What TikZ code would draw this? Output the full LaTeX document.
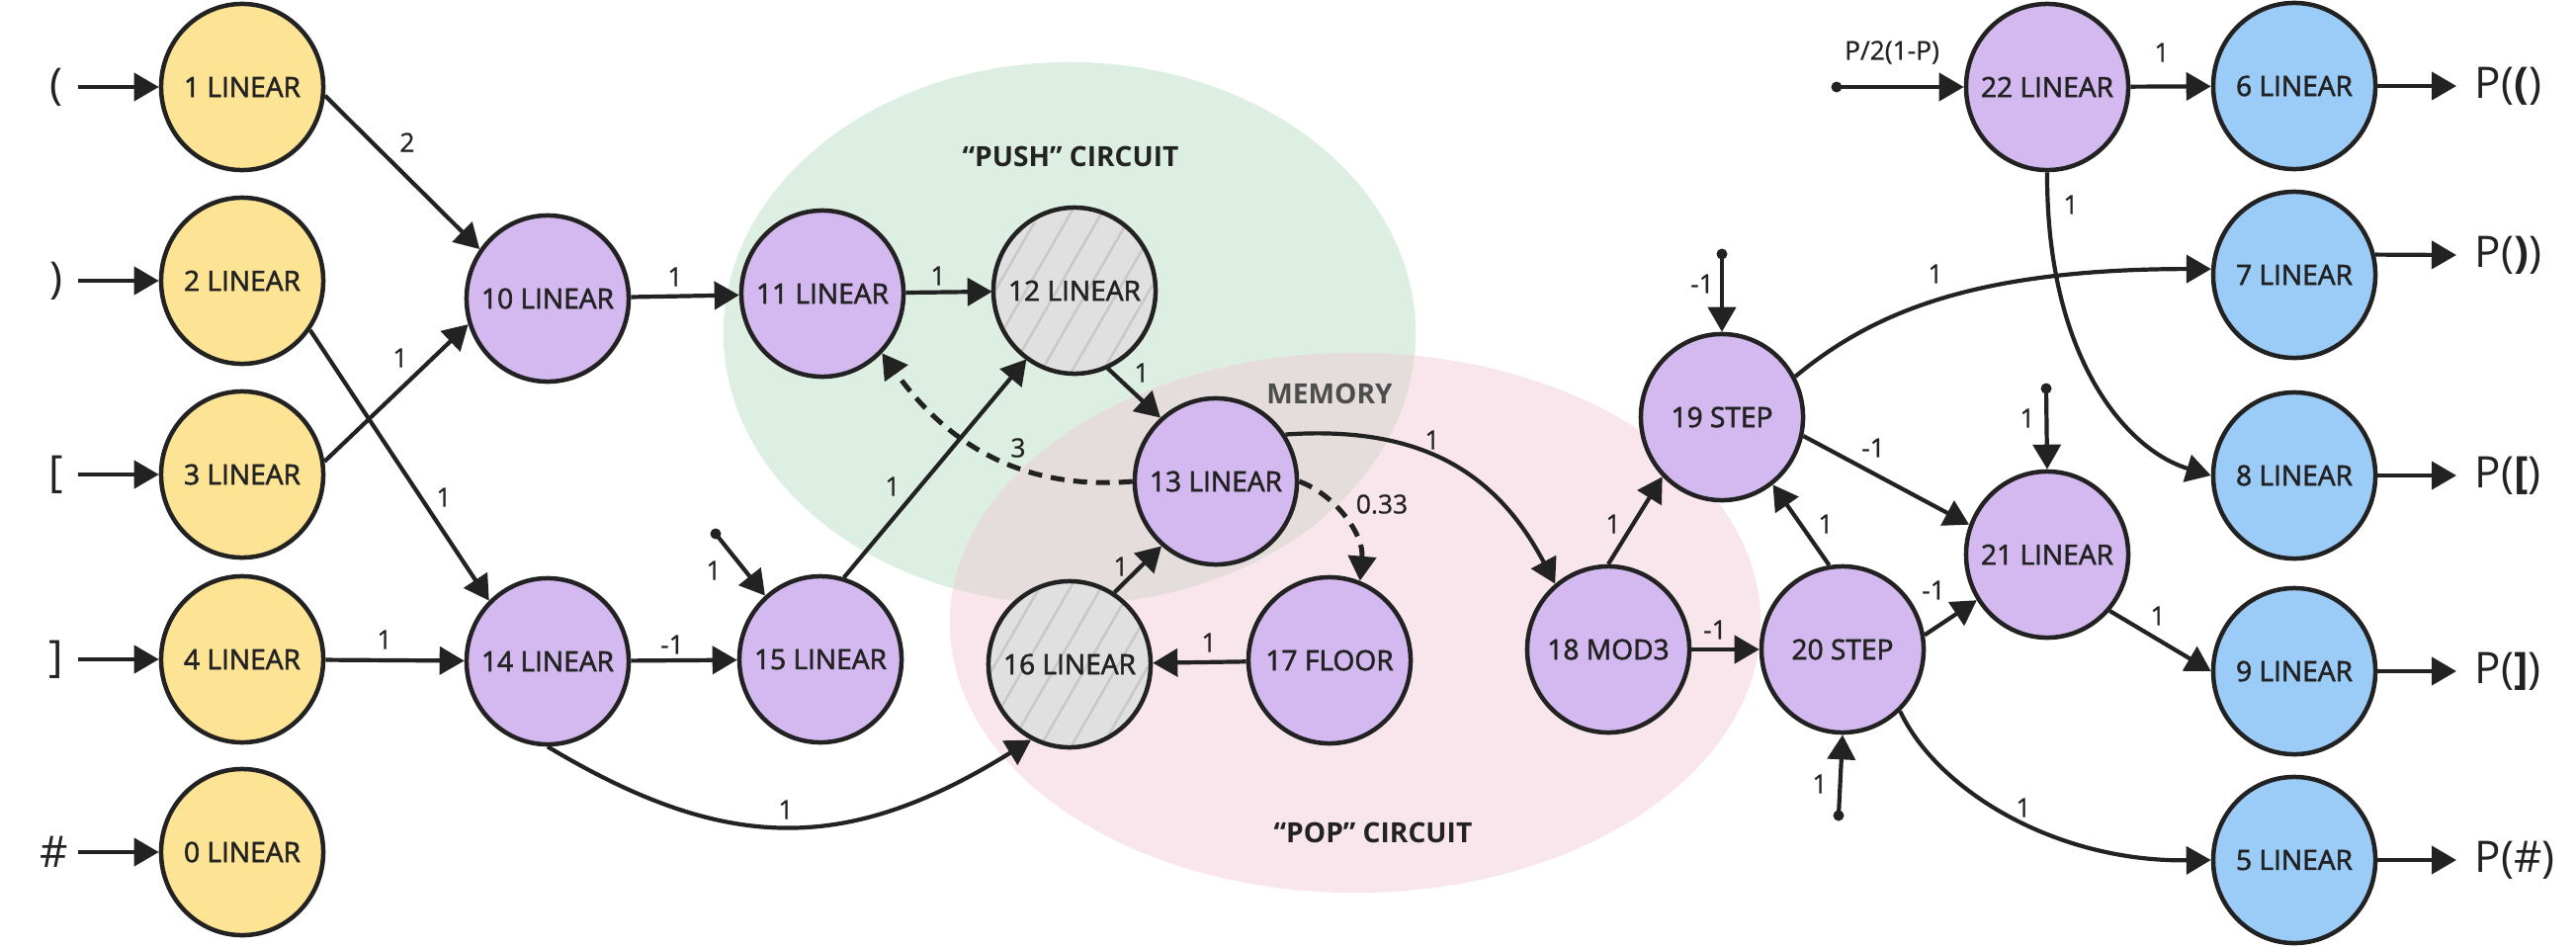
\documentclass[tikz,border=0pt]{standalone}
\usepackage{fontspec}
\setmainfont{Open Sans}
\newfontfamily\nodefont{Open Sans}[FakeBold=2]
\newfontfamily\lblfont{Open Sans}[FakeBold=0.8]
\usetikzlibrary{arrows.meta,shapes.geometric,patterns.meta}
\definecolor{ink}{HTML}{222222}
\definecolor{cyel}{HTML}{FDE394}
\definecolor{cpur}{HTML}{D3B9F0}
\definecolor{cblu}{HTML}{9ACCF7}
\definecolor{cgray}{HTML}{E0E0E0}
\definecolor{chat}{HTML}{C8C8C8}
\definecolor{cgreen}{HTML}{DDEFE2}
\definecolor{cpink}{HTML}{F9E6EC}
\definecolor{cover}{HTML}{E5DCDC}
\definecolor{cmem}{HTML}{4D4D4D}
\newcommand{\ntx}[1]{\makebox[0pt]{#1}}
\begin{document}
\begin{tikzpicture}[x=0.01cm,y=-0.01cm,
  nd/.style={ellipse, draw=ink, line width=0.045cm, minimum width=1.64cm, minimum height=1.68cm, inner sep=0pt, font=\nodefont\fontsize{8}{9}\selectfont, text=ink},
  yel/.style={nd, fill=cyel},
  pur/.style={nd, fill=cpur},
  blu/.style={nd, fill=cblu},
  hat/.style={nd, preaction={fill=cgray}, pattern={Lines[angle=60,distance=0.27cm,line width=0.025cm]}, pattern color=chat},
  edge/.style={draw=ink, line width=0.042cm, -{Triangle[length=0.25cm,width=0.28cm]}},
  dsh/.style={edge, line width=0.05cm, dash pattern=on 0.14cm off 0.09cm},
  lbl/.style={font=\lblfont\fontsize{7.5}{9}\selectfont, text=ink, inner sep=0pt},
  dot/.style={circle, fill=ink, minimum size=0.11cm, inner sep=0pt},
  big/.style={font=\fontsize{12.5}{14}\selectfont, text=ink, inner sep=0pt},
  region/.style={font=\bfseries\fontsize{8}{9}\selectfont, text=ink, inner sep=0pt}
]
\useasboundingbox (0,0) rectangle (2606,957);
% background regions
\fill[cgreen] (1082,337) ellipse [x radius=3.5cm, y radius=2.74cm];
\fill[cpink] (1371,630) ellipse [x radius=4.1cm, y radius=2.73cm];
\begin{scope}
  \clip (1082,337) ellipse [x radius=3.5cm, y radius=2.74cm];
  \fill[cover] (1371,630) ellipse [x radius=4.1cm, y radius=2.73cm];
\end{scope}
\node[region] (tpush) at (1083,158) {“PUSH” CIRCUIT};
\node[region, text=cmem] (tmem) at (1345,398) {MEMORY};
\node[region] (tpop) at (1389,842) {“POP” CIRCUIT};

% nodes
\node[yel] (n1) at (245,88) {\ntx{1 LINEAR}};
\node[yel] (n2) at (245,284) {\ntx{2 LINEAR}};
\node[yel] (n3) at (245,480) {\ntx{3 LINEAR}};
\node[yel] (n4) at (245,667) {\ntx{4 LINEAR}};
\node[yel] (n0) at (245,862) {\ntx{0 LINEAR}};
\node[pur] (n10) at (554,302) {\ntx{10 LINEAR}};
\node[pur] (n14) at (554,669) {\ntx{14 LINEAR}};
\node[pur] (n11) at (832,297) {\ntx{11 LINEAR}};
\node[pur] (n15) at (830,667) {\ntx{15 LINEAR}};
\node[hat] (n12) at (1087,294) {\ntx{12 LINEAR}};
\node[hat] (n16) at (1082,672) {\ntx{16 LINEAR}};
\node[pur] (n13) at (1230,487) {\ntx{13 LINEAR}};
\node[pur] (n17) at (1345,668) {\ntx{17 FLOOR}};
\node[pur] (n18) at (1627,657) {\ntx{18 MOD3}};
\node[pur] (n19) at (1742,422) {\ntx{19 STEP}};
\node[pur] (n20) at (1864,657) {\ntx{20 STEP}};
\node[pur] (n21) at (2071,561) {\ntx{21 LINEAR}};
\node[pur] (n22) at (2071,88) {\ntx{22 LINEAR}};
\node[blu] (n6) at (2321,87) {\ntx{6 LINEAR}};
\node[blu] (n7) at (2321,278) {\ntx{7 LINEAR}};
\node[blu] (n8) at (2321,481) {\ntx{8 LINEAR}};
\node[blu] (n9) at (2321,679) {\ntx{9 LINEAR}};
\node[blu] (n5) at (2321,870) {\ntx{5 LINEAR}};

% inputs
\node[big] (l1) at (57,88) {(};
\node[big] (l2) at (57,284) {)};
\node[big] (l3) at (57,480) {[};
\node[big] (l4) at (57,667) {]};
\node[big] (l0) at (55,862) {\#};
\coordinate (s1) at (79,88);
\coordinate (s2) at (79,284);
\coordinate (s3) at (79,480);
\coordinate (s4) at (79,667);
\coordinate (s0) at (79,862);
\draw[edge] (s1) -- (n1);
\draw[edge] (s2) -- (n2);
\draw[edge] (s3) -- (n3);
\draw[edge] (s4) -- (n4);
\draw[edge] (s0) -- (n0);

% outputs
\coordinate (o6) at (2485,87);
\coordinate (o7) at (2485,258);
\coordinate (o8) at (2485,481);
\coordinate (o9) at (2485,679);
\coordinate (o5) at (2485,870);
\draw[edge] (n6) -- (o6);
\draw[edge] (n7.14) -- (o7);
\draw[edge] (n8) -- (o8);
\draw[edge] (n9) -- (o9);
\draw[edge] (n5) -- (o5);
\node[big, anchor=west] (p6) at (2503,87) {P(\textbf{(})};
\node[big, anchor=west] (p7) at (2503,258) {P(\textbf{)})};
\node[big, anchor=west] (p8) at (2503,481) {P(\textbf{[})};
\node[big, anchor=west] (p9) at (2503,679) {P(\textbf{]})};
\node[big, anchor=west] (p5) at (2503,870) {P(\#)};

% bias dots
\node[dot] (b15) at (724,540) {};
\node[dot] (b19) at (1742,257) {};
\node[dot] (b21) at (2070,393) {};
\node[dot] (b20) at (1860,825) {};
\node[dot] (b22) at (1858,88) {};

% edges
\draw[edge] (n1.-6) -- (n10.144) node[lbl] at (412,144) {2};
\draw[edge] (n2.-36) -- (n14.134) node[lbl] at (449,503) {1};
\draw[edge] (n3.9) -- (n10.198) node[lbl] at (405,362) {1};
\draw[edge] (n4) -- (n14) node[lbl] at (389,647) {1};
\draw[edge] (n10) -- (n11) node[lbl] at (683,280) {1};
\draw[edge] (n14) -- (n15) node[lbl] at (680,652) {-1};
\draw[edge] (b15.center) -- (n15.131) node[lbl] at (722,577) {1};
\draw[edge] (n15.74) -- (n12.235) node[lbl] at (903,492) {1};
\draw[edge] (n11) -- (n12) node[lbl] at (949,279) {1};
\draw[edge] (n12.-67) -- (n13.131) node[lbl] at (1155,377) {1};
\draw[dsh] (n13.west) .. controls (1030,497) and (955,445) .. (n11.-45) node[lbl] at (1030,453) {3};
\draw[dsh] (n13.east) .. controls (1350,500) and (1380,540) .. (n17.69) node[lbl] at (1398,510) {0.33};
\draw[edge] (n16.58) -- (n13.230) node[lbl] at (1134,573) {1};
\draw[edge] (n17) -- (n16) node[lbl] at (1223,650) {1};
\draw[edge] (n14.south) .. controls (735,864) and (857,864) .. (n16.243) node[lbl] at (795,819) {1};
\draw[edge] (n13.34) .. controls (1440,430) and (1515,480) .. (n18.129) node[lbl] at (1449,445) {1};
\draw[edge] (n18.north) -- (n19.225) node[lbl] at (1632,530) {1};
\draw[edge] (n18) -- (n20) node[lbl] at (1735,637) {-1};
\draw[edge] (n20.99) -- (n19.-53) node[lbl] at (1847,530) {1};
\draw[edge] (b19.center) -- (n19.north) node[lbl] at (1722,287) {-1};
\draw[edge] (n19.29) .. controls (1890,320) and (1990,272) .. (n7.176) node[lbl] at (1958,277) {1};
\draw[edge] (n19.-13) -- (n21.159) node[lbl] at (1895,453) {-1};
\draw[edge] (n20.10) -- (n21.213) node[lbl] at (1956,597) {-1};
\draw[edge] (b21.center) -- (n21.north) node[lbl] at (2051,423) {1};
\draw[edge] (b20.center) -- (n20.south) node[lbl] at (1841,793) {1};
\draw[edge] (n21.-42) -- (n9.west) node[lbl] at (2183,623) {1};
\draw[edge] (n20.-47) .. controls (1960,800) and (2080,872) .. (n5.west) node[lbl] at (2047,817) {1};
\draw[edge] (n22) -- (n6) node[lbl] at (2187,53) {1};
\draw[edge] (n22.south) .. controls (2070,360) and (2150,455) .. (n8.west) node[lbl] at (2095,207) {1};
\draw[edge] (b22.center) -- (n22.west) node[lbl] at (1914,53) {P/2(1-P)};
\end{tikzpicture}
\end{document}
